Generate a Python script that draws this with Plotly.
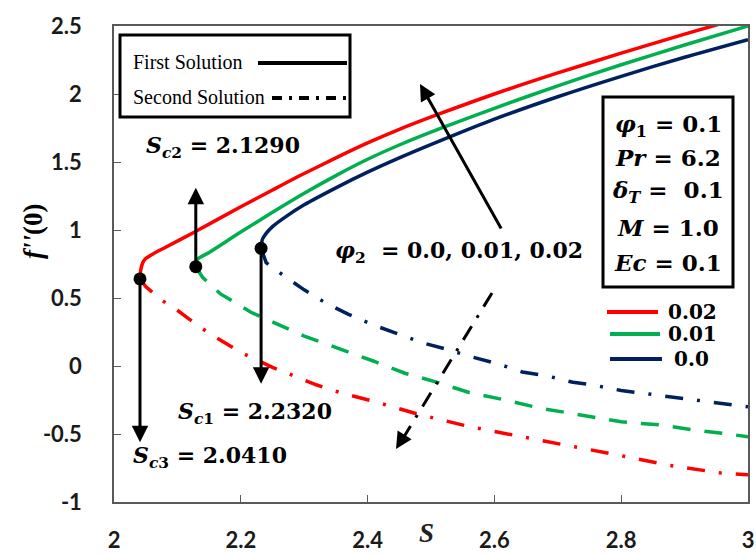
import plotly.graph_objects as go

# ---------------- data ----------------
x_ticks = [2, 2.2, 2.4, 2.6, 2.8, 3]
x_ticktext = ["2", "2.2", "2.4", "2.6", "2.8", "3"]
y_ticks = [-1, -0.5, 0, 0.5, 1, 1.5, 2, 2.5]
y_ticktext = ["-1", "-0.5", "0", "0.5", "1", "1.5", "2", "2.5"]

phi2_labels = ["0.02", "0.01", "0.0"]
colors = ["#FF0000", "#00B050", "#002060"]

# critical points S_c and f''(0) there
sc_values = [2.041, 2.129, 2.232]          # red (0.02), green (0.01), blue (0.0)
sc_f = [0.64, 0.73, 0.865]

# first solutions (solid)
s_red_1 = [2.041, 2.042, 2.045, 2.05, 2.06, 2.08, 2.125, 2.2, 2.25, 2.3, 2.35, 2.4, 2.45, 2.514, 2.6, 2.7, 2.8, 2.9, 3.0]
f_red_1 = [0.64, 0.70, 0.755, 0.79, 0.82, 0.87, 0.98, 1.171, 1.294, 1.415, 1.53, 1.64, 1.74, 1.855, 2.0, 2.155, 2.30, 2.44, 2.575]
s_grn_1 = [2.129, 2.1305, 2.15, 2.2, 2.25, 2.3, 2.35, 2.4, 2.45, 2.514, 2.6, 2.7, 2.8, 2.9, 3.0]
f_grn_1 = [0.73, 0.78, 0.835, 0.985, 1.13, 1.27, 1.40, 1.52, 1.625, 1.745, 1.895, 2.06, 2.215, 2.36, 2.50]
s_blu_1 = [2.232, 2.234, 2.24, 2.25, 2.27, 2.3, 2.35, 2.4, 2.45, 2.514, 2.6, 2.7, 2.8, 2.9, 3.0]
f_blu_1 = [0.865, 0.93, 0.975, 1.025, 1.095, 1.185, 1.31, 1.425, 1.53, 1.655, 1.815, 1.98, 2.13, 2.27, 2.40]

# second solutions (broken lines)
s_red_2 = [2.041, 2.05, 2.073, 2.1, 2.117, 2.15, 2.2, 2.25, 2.32, 2.36, 2.41, 2.48, 2.56, 2.63, 2.71, 2.79, 2.875, 2.955, 3.0]
f_red_2 = [0.64, 0.585, 0.49, 0.41, 0.35, 0.24, 0.10, -0.01, -0.14, -0.20, -0.26, -0.355, -0.445, -0.51, -0.58, -0.65, -0.73, -0.785, -0.80]
s_grn_2 = [2.129, 2.14, 2.168, 2.216, 2.30, 2.36, 2.41, 2.46, 2.51, 2.56, 2.617, 2.672, 2.73, 2.80, 2.865, 2.917, 2.968, 3.0]
f_grn_2 = [0.73, 0.65, 0.53, 0.395, 0.22, 0.12, 0.035, -0.055, -0.12, -0.195, -0.25, -0.31, -0.357, -0.41, -0.435, -0.472, -0.50, -0.52]
s_blu_2 = [2.232, 2.24, 2.266, 2.30, 2.335, 2.37, 2.41, 2.45, 2.487, 2.527, 2.565, 2.606, 2.644, 2.685, 2.724, 2.756, 2.8, 2.9, 3.0]
f_blu_2 = [0.865, 0.76, 0.67, 0.56, 0.46, 0.38, 0.30, 0.23, 0.17, 0.12, 0.066, 0.015, -0.044, -0.075, -0.12, -0.14, -0.18, -0.24, -0.30]

params = ["<i>φ</i><sub>1</sub> = 0.1", "<i>Pr</i> = 6.2", "<i>δ<sub>T</sub></i> =  0.1",
          "<i>M</i> = 1.0", "<i>Ec</i> = 0.1"]

# ---------------- layout helpers ----------------
L, R, T, B = 114, 8, 26, 54
W, H = 756, 556
PW, PH = W - L - R, H - T - B

def pxx(p):
    return (p - L) / PW

def pxy(p):
    return (H - B - p) / PH

fig = go.Figure()

dash_dd = "18px,14px,3px,14px"
dash_d = "18px,14px"

firsts = [(s_red_1, f_red_1), (s_grn_1, f_grn_1), (s_blu_1, f_blu_1)]
seconds = [(s_red_2, f_red_2, dash_dd), (s_grn_2, f_grn_2, dash_d), (s_blu_2, f_blu_2, dash_dd)]

for (sx, sy, dsh), c in zip(seconds, colors):
    fig.add_trace(go.Scatter(x=sx, y=sy, mode="lines", line=dict(color=c, width=3.5, dash=dsh),
                             hoverinfo="skip"))
for (sx, sy), c in zip(firsts, colors):
    fig.add_trace(go.Scatter(x=sx, y=sy, mode="lines", line=dict(color=c, width=3.5, shape="spline", smoothing=0.8),
                             hoverinfo="skip"))

fig.add_trace(go.Scatter(x=sc_values, y=sc_f, mode="markers",
                         marker=dict(color="black", size=13), hoverinfo="skip"))

ann = []
shapes = []
lab_font = dict(family="DejaVu Serif", size=22, color="black")

# S_c arrows
arrow_tips = [-0.56, 1.31, -0.13]   # red down, green up, blue down
for xs, y0, y1 in zip(sc_values, sc_f, arrow_tips):
    ann.append(dict(x=xs, y=y1, ax=xs, ay=y0, xref="x", yref="y", axref="x", ayref="y",
                    showarrow=True, arrowhead=2, arrowsize=1.1, arrowwidth=3, arrowcolor="black", text=""))

ann.append(dict(x=pxx(131), y=pxy(457), xref="paper", yref="paper", xanchor="left", yanchor="middle",
                showarrow=False, font=lab_font,
                text="<b><i>S</i><sub><i>c</i>3</sub> = 2.0410</b>"))
ann.append(dict(x=pxx(144), y=pxy(147), xref="paper", yref="paper", xanchor="left", yanchor="middle",
                showarrow=False, font=lab_font,
                text="<b><i>S</i><sub><i>c</i>2</sub> = 2.1290</b>"))
ann.append(dict(x=pxx(176), y=pxy(413), xref="paper", yref="paper", xanchor="left", yanchor="middle",
                showarrow=False, font=lab_font,
                text="<b><i>S</i><sub><i>c</i>1</sub> = 2.2320</b>"))
ann.append(dict(x=pxx(333), y=pxy(252), xref="paper", yref="paper", xanchor="left", yanchor="middle",
                showarrow=False, font=lab_font,
                text="<b><i>φ</i><sub>2</sub>  = 0.0, 0.01, 0.02</b>"))

# phi2 solid arrow (tail offset in pixels)
ann.append(dict(x=pxx(420), y=pxy(84), ax=502 - 420, ay=230 - 84, xref="paper", yref="paper",
                showarrow=True, arrowhead=2, arrowsize=1.1,
                arrowwidth=3, arrowcolor="black", text=""))
# dash-dot arrow (line + head)
shapes.append(dict(type="line", xref="paper", yref="paper", x0=pxx(492), y0=pxy(293), x1=pxx(402), y1=pxy(440),
                   line=dict(color="black", width=3, dash="16px,10px,3px,10px")))
ann.append(dict(x=pxx(396), y=pxy(449), ax=8, ay=-13, xref="paper", yref="paper",
                showarrow=True, arrowhead=2, arrowsize=1.1, arrowwidth=3, arrowcolor="black", text=""))

# top-left solution legend
shapes.append(dict(type="rect", xref="paper", yref="paper", x0=pxx(120), x1=pxx(350), y0=pxy(117), y1=pxy(35),
                   line=dict(color="black", width=3), fillcolor="white"))
shapes.append(dict(type="line", xref="paper", yref="paper", x0=pxx(258), x1=pxx(347), y0=pxy(63), y1=pxy(63),
                   line=dict(color="black", width=4)))
shapes.append(dict(type="line", xref="paper", yref="paper", x0=pxx(272), x1=pxx(347), y0=pxy(98), y1=pxy(98),
                   line=dict(color="black", width=4, dash="10px,7px,3px,7px")))
ann.append(dict(x=pxx(131), y=pxy(62), xref="paper", yref="paper", xanchor="left", yanchor="middle",
                showarrow=False, font=dict(family="Liberation Serif", size=20, color="black"),
                text="First Solution"))
ann.append(dict(x=pxx(131), y=pxy(97), xref="paper", yref="paper", xanchor="left", yanchor="middle",
                showarrow=False, font=dict(family="Liberation Serif", size=20, color="black"),
                text="Second Solution"))

# parameter box
shapes.append(dict(type="rect", xref="paper", yref="paper", x0=pxx(603), x1=pxx(733), y0=pxy(287), y1=pxy(97),
                   line=dict(color="black", width=3), fillcolor="white"))
for txt, yp in zip(params, [125, 157, 191, 227, 262]):
    ann.append(dict(x=pxx(668), y=pxy(yp), xref="paper", yref="paper", xanchor="center", yanchor="middle",
                    showarrow=False, font=dict(family="DejaVu Serif", size=23, color="black"),
                    text="<b>" + txt + "</b>"))

# phi2 colour legend
for lab, c, yp, x0, x1, xt in zip(phi2_labels, colors, [312, 334, 359], [607, 610, 610], [658, 660, 662], [666, 666, 672]):
    shapes.append(dict(type="line", xref="paper", yref="paper", x0=pxx(x0), x1=pxx(x1), y0=pxy(yp), y1=pxy(yp),
                       line=dict(color=c, width=4)))
    ann.append(dict(x=pxx(xt), y=pxy(yp), xref="paper", yref="paper", xanchor="left", yanchor="middle",
                    showarrow=False, font=dict(family="DejaVu Serif", size=20, color="black"),
                    text="<b>" + lab + "</b>"))

# axis titles
ann.append(dict(x=pxx(33), y=pxy(232), xref="paper", yref="paper", xanchor="center", yanchor="middle",
                showarrow=False, textangle=-90,
                font=dict(family="Liberation Serif", size=27, color="black"),
                text="<b><i>f''</i>(0)</b>"))
ann.append(dict(x=pxx(426), y=pxy(533), xref="paper", yref="paper", xanchor="center", yanchor="middle",
                showarrow=False, font=dict(family="Liberation Serif", size=27, color="#222"),
                text="<b><i>S</i></b>"))

axis_common = dict(showgrid=False, zeroline=False, showline=True, mirror=True, linecolor="#595959",
                   linewidth=1.5, ticks="inside", ticklen=7, tickcolor="#595959", tickwidth=1.2,
                   automargin=False,
                   tickfont=dict(family="Lato", size=22, color="#1a1a1a", weight="bold"))

fig.update_layout(
    width=W, height=H, margin=dict(l=L, r=R, t=T, b=B, autoexpand=False),
    paper_bgcolor="white", plot_bgcolor="white", showlegend=False,
    xaxis=dict(range=[2, 3], tickvals=x_ticks, ticktext=x_ticktext, ticklabelstandoff=18, **axis_common),
    yaxis=dict(range=[-1, 2.5], tickvals=y_ticks, ticktext=y_ticktext, ticklabelstandoff=26, **axis_common),
    annotations=ann, shapes=shapes,
)

fig.write_html("out.html")
